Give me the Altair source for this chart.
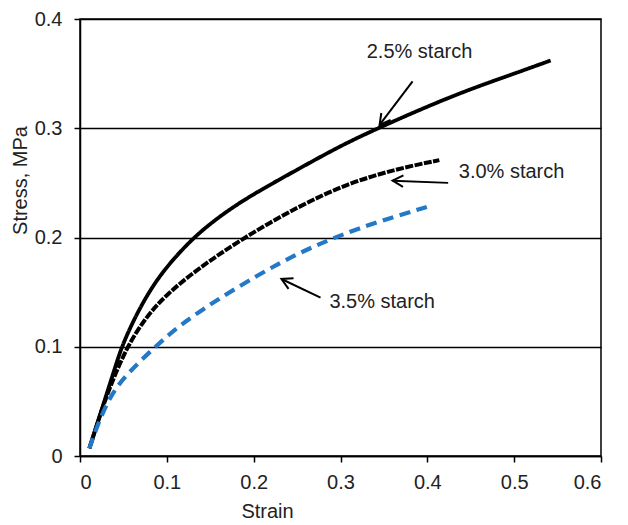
import math
import altair as alt
import pandas as pd

# ---- data ----
s25_strain = [0.0108, 0.02, 0.03, 0.04, 0.048, 0.0615, 0.077, 0.096, 0.13, 0.165, 0.20, 0.25, 0.30, 0.343, 0.40, 0.45, 0.50, 0.542]
s25_stress = [0.007, 0.03, 0.055, 0.08, 0.10, 0.124, 0.147, 0.17, 0.20, 0.222, 0.240, 0.262, 0.284, 0.30, 0.320, 0.336, 0.350, 0.362]

s30_strain = [0.0108, 0.02, 0.0327, 0.0538, 0.0768, 0.0999, 0.135, 0.1888, 0.2504, 0.308, 0.3657, 0.4138]
s30_stress = [0.007, 0.03, 0.060, 0.10, 0.128, 0.148, 0.171, 0.20, 0.228, 0.2495, 0.263, 0.2708]

s35_strain = [0.0108, 0.02, 0.0346, 0.0538, 0.0865, 0.1153, 0.1538, 0.2076, 0.25, 0.2926, 0.3465, 0.4042]
s35_stress = [0.007, 0.028, 0.055, 0.075, 0.10, 0.12, 0.141, 0.167, 0.185, 0.20, 0.2155, 0.229]

series_names = ["2.5% starch", "3.0% starch", "3.5% starch"]

label_x = [0.391, 0.497, 0.348]
label_y = [0.370, 0.260, 0.141]

arrow_x0 = [0.383, 0.424, 0.277]
arrow_y0 = [0.343, 0.250, 0.145]
arrow_x1 = [0.345, 0.360, 0.232]
arrow_y1 = [0.303, 0.252, 0.162]

x_ticks = [0, 0.1, 0.2, 0.3, 0.4, 0.5, 0.6]
y_ticks = [0, 0.1, 0.2, 0.3, 0.4]

W, H = 521, 437
FONT = "Liberation Sans"
FS = 20

rows = []
for name, xs_, ys_ in zip(series_names, [s25_strain, s30_strain, s35_strain],
                          [s25_stress, s30_stress, s35_stress]):
    for xv, yv in zip(xs_, ys_):
        rows.append({"series": name, "strain": xv, "stress": yv})
curves = pd.DataFrame(rows)

kx, ky = W / 0.6, H / 0.4
angles = []
for x0, y0, x1, y1 in zip(arrow_x0, arrow_y0, arrow_x1, arrow_y1):
    dx = (x1 - x0) * kx
    dy = -(y1 - y0) * ky
    angles.append(math.degrees(math.atan2(dx, -dy)) % 360)

ann = pd.DataFrame({
    "label": series_names, "lx": label_x, "ly": label_y,
    "x0": arrow_x0, "y0": arrow_y0, "x1": arrow_x1, "y1": arrow_y1,
    "angle": angles,
})

xs = alt.Scale(domain=[0, 0.6], nice=False)
ys = alt.Scale(domain=[0, 0.4], nice=False)

lines = alt.Chart(curves).mark_line(interpolate="basis").encode(
    x=alt.X("strain:Q", scale=xs, title="Strain",
            axis=alt.Axis(values=x_ticks, format="~g", grid=False,
                          titleX=187, titleY=45, titleBaseline="top")),
    y=alt.Y("stress:Q", scale=ys, title="Stress, MPa",
            axis=alt.Axis(values=y_ticks, format="~g", grid=True,
                          titleY=161)),
    color=alt.Color("series:N", legend=None,
                    scale=alt.Scale(domain=series_names, range=["#000000", "#000000", "#2379c6"])),
    strokeDash=alt.StrokeDash("series:N", legend=None,
                              scale=alt.Scale(domain=series_names, range=[[1, 0], [8, 1.5], [11, 6.5]])),
    strokeWidth=alt.StrokeWidth("series:N", legend=None,
                                scale=alt.Scale(domain=series_names, range=[3.8, 4.2, 2.7])),
    detail="series:N",
)

texts = alt.Chart(ann).mark_text(font=FONT, fontSize=FS, color="#222222").encode(
    x=alt.X("lx:Q", scale=xs), y=alt.Y("ly:Q", scale=ys), text="label:N"
)

rules = alt.Chart(ann).mark_rule(color="#000000", strokeWidth=2).encode(
    x=alt.X("x0:Q", scale=xs), y=alt.Y("y0:Q", scale=ys),
    x2="x1:Q", y2="y1:Q"
)

heads = alt.Chart(ann).mark_point(
    shape="M-0.55,1L0,0L0.55,1", filled=False, color="#000000",
    strokeWidth=2, size=450, opacity=1
).encode(
    x=alt.X("x1:Q", scale=xs), y=alt.Y("y1:Q", scale=ys),
    angle=alt.Angle("angle:Q", scale=None)
)

chart = alt.layer(lines, rules, heads, texts).properties(
    width=W, height=H,
    padding={"left": 2, "top": 1, "right": 5, "bottom": 0},
).configure_view(
    stroke="#000000", strokeWidth=1.5
).configure_axis(
    domainColor="#000000", domainWidth=1.5,
    tickColor="#000000", tickWidth=1.5, tickSize=6,
    gridColor="#000000", gridWidth=1.5, gridOpacity=1,
    labelFont=FONT, labelFontSize=FS, labelColor="#222222",
    titleFont=FONT, titleFontSize=FS, titleFontWeight="normal", titleColor="#222222",
).configure_axisY(
    labelPadding=12, titlePadding=4
).configure_axisX(
    labelPadding=10
)

chart.save("out.html", embed_options={"renderer": "svg", "actions": False})
